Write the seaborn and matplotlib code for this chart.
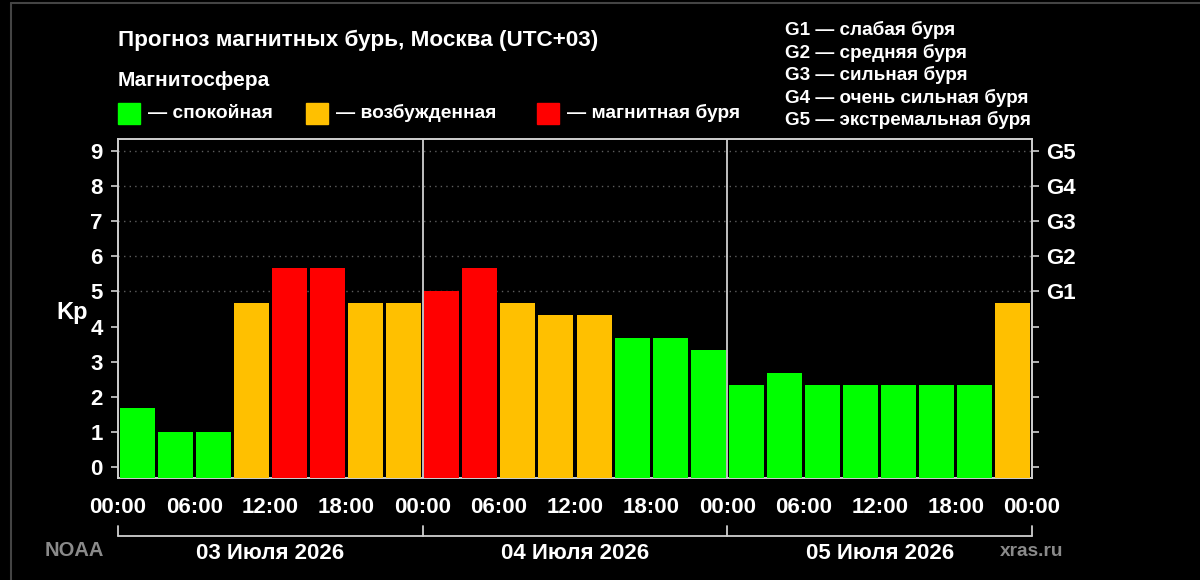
import numpy as np
import pandas as pd
import matplotlib
matplotlib.use("Agg")
import matplotlib.pyplot as plt
import matplotlib.transforms as mtransforms
from matplotlib.lines import Line2D
from matplotlib.patches import Rectangle
import seaborn as sns

# ---- data ----
kp = [1.67, 1.00, 1.00, 4.67, 5.67, 5.67, 4.67, 4.67,
      5.00, 5.67, 4.67, 4.33, 4.33, 3.67, 3.67, 3.33,
      2.33, 2.67, 2.33, 2.33, 2.33, 2.33, 2.33, 4.67]
days = ['03 Июля 2026', '04 Июля 2026', '05 Июля 2026']
time_labels = ['00:00', '06:00', '12:00', '18:00']
g_labels = ['G1', 'G2', 'G3', 'G4', 'G5']
g_text = ['G1 — слабая буря', 'G2 — средняя буря', 'G3 — сильная буря',
          'G4 — очень сильная буря', 'G5 — экстремальная буря']
levels = ['спокойная', 'возбужденная', 'магнитная буря']
colors = ['#00ff00', '#ffc000', '#ff0000']
palette = dict(zip(levels, colors))


def level_of(v):
    if v >= 5:
        return levels[2]
    if v >= 4:
        return levels[1]
    return levels[0]


df = pd.DataFrame({'slot': np.arange(len(kp)), 'kp': kp})
df['level'] = df['kp'].apply(level_of)

# ---- style ----
sns.set_style("dark")
plt.rcParams['font.family'] = ['Liberation Sans', 'DejaVu Sans']
plt.rcParams['font.weight'] = 'bold'

W, H = 1200, 580
fig = plt.figure(figsize=(12, 5.8), dpi=100, facecolor='black')


def px(x, y):
    return x / W, 1 - y / H


ax = fig.add_axes([118 / W, 1 - 478 / H, (1032 - 118) / W, (478 - 139) / H])
ax.set_facecolor('black')

ymin, ymax = -0.31, 9.34
sns.barplot(data=df, x='slot', y='kp', hue='level', hue_order=levels,
            palette=palette, dodge=False, width=0.92, saturation=1,
            legend=False, edgecolor='none', linewidth=0, ax=ax, zorder=3)
# bars start at the bottom of the axes, as in the original
for p in ax.patches:
    h = p.get_height()
    p.set_y(ymin)
    p.set_height(h - ymin)

ax.set_xlim(-0.5, len(kp) - 0.5)
ax.set_ylim(ymin, ymax)

# grid only at storm levels
for y in range(5, 10):
    ax.axhline(y, color='#5e5e5e', lw=1, ls=(0, (1, 3)), zorder=1)
for x in [7.5, 15.5]:
    ax.axvline(x, color='#d0d0d0', lw=1.3, zorder=4)

# x ticks at every 3 h boundary, labels every 6 h
xt = np.arange(-0.5, len(kp), 1)
xl = []
for i in range(len(xt)):
    xl.append(time_labels[(i // 2) % 4] if i % 2 == 0 else '')
ax.set_xticks(xt)
ax.set_xticklabels(xl)
ax.set_yticks(range(10))
ax.set_yticklabels([str(i) for i in range(10)])
ax.set_xlabel('')
ax.set_ylabel('')
ax.tick_params(axis='x', colors='#d0d0d0', labelcolor='white', length=5,
               width=1.2, pad=9, labelsize=16)
ax.tick_params(axis='y', colors='#d0d0d0', labelcolor='white', length=5,
               width=1.2, pad=6, labelsize=16)
for s in ax.spines.values():
    s.set_visible(True)
    s.set_color('#d0d0d0')
    s.set_linewidth(1.4)

ax2 = ax.twinx()
ax2.set_ylim(ymin, ymax)
ax2.set_yticks(range(10))
ax2.set_yticklabels([''] * 5 + g_labels)
ax2.tick_params(axis='y', colors='#d0d0d0', labelcolor='white', length=5,
                width=1.2, pad=5, labelsize=16)
ax2.grid(False)
for s in ax2.spines.values():
    s.set_visible(False)

# day bracket below the axis
trans = mtransforms.blended_transform_factory(ax.transData, ax.transAxes)
ax.plot([-0.5, len(kp) - 0.5], [-0.171, -0.171], color='#d0d0d0', lw=1.3,
        transform=trans, clip_on=False)
for x in [-0.5, 7.5, 15.5, 23.5]:
    ax.plot([x, x], [-0.171, -0.143], color='#d0d0d0', lw=1.3,
            transform=trans, clip_on=False)
for i, d in enumerate(days):
    ax.text(3.5 + 8 * i, -0.222, d, transform=trans, color='white',
            fontsize=16, fontweight='bold', ha='center', va='center')

ax.text(-0.033, 0.488, 'Kp', transform=ax.transAxes, color='white',
        fontsize=17, fontweight='bold', ha='right', va='center')

# header texts
fig.text(*px(118, 40), 'Прогноз магнитных бурь, Москва (UTC+03)',
         color='white', fontsize=16.2, fontweight='bold', va='center')
fig.text(*px(118, 80), 'Магнитосфера', color='white', fontsize=15,
         fontweight='bold', va='center')
for xs, lab, c in zip([118, 306, 537], levels, colors):
    fig.patches.append(Rectangle(px(xs, 124), 22 / W, 21 / H, color=c,
                                 transform=fig.transFigure))
    fig.text(*px(xs + 30, 113), '— ' + lab, color='white', fontsize=13.8,
             fontweight='bold', va='center')
for i, t in enumerate(g_text):
    fig.text(*px(785, 30 + 22.6 * i), t, color='white', fontsize=13.6,
             fontweight='bold', va='center')

fig.text(*px(45, 551), 'NOAA', color='#8a8a8a', fontsize=14.5,
         fontweight='bold', va='center')
fig.text(*px(1000, 551), 'xras.ru', color='#8a8a8a', fontsize=13.8,
         fontweight='bold', va='center')

# screenshot frame
fig.add_artist(Line2D([11 / W, 11 / W], [0, 1 - 3 / H], color='#444444',
                      lw=1.5, transform=fig.transFigure))
fig.add_artist(Line2D([11 / W, 1], [1 - 3 / H, 1 - 3 / H], color='#444444',
                      lw=1.5, transform=fig.transFigure))

plt.savefig('out.png', dpi=100, facecolor='black')
